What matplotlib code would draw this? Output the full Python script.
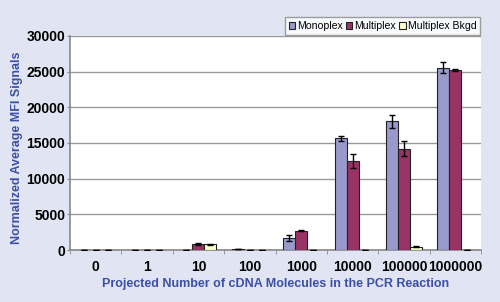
import matplotlib.pyplot as plt
import numpy as np

categories = ["0", "1", "10", "100", "1000", "10000", "100000", "1000000"]

monoplex = [30, 30, 40, 120, 1730, 15650, 18020, 25560]
monoplex_err = [10, 10, 10, 20, 420, 400, 860, 800]
multiplex = [30, 30, 880, 30, 2710, 12490, 14160, 25240]
multiplex_err = [10, 10, 160, 10, 110, 1000, 1050, 90]
bkgd = [30, 30, 800, 30, 30, 30, 470, 30]
bkgd_err = [5, 5, 30, 5, 5, 5, 110, 5]

bg = "#e1e5f3"
blue = "#3c4fa6"

plt.rcParams['font.family'] = ['Liberation Sans', 'DejaVu Sans']

fig = plt.figure(figsize=(5, 3.02), dpi=100, facecolor=bg)
ax = fig.add_axes([0.14, 0.172, 0.822, 0.709])
ax.set_facecolor("white")

x = np.arange(len(categories))
w = 0.233
err_kw = dict(ecolor="black", capsize=2.5, elinewidth=1, capthick=1)
ax.bar(x - w, monoplex, w, yerr=monoplex_err, color="#9999cc", edgecolor="#222222",
       linewidth=0.8, label="Monoplex", error_kw=err_kw, zorder=3)
ax.bar(x, multiplex, w, yerr=multiplex_err, color="#993366", edgecolor="#222222",
       linewidth=0.8, label="Multiplex", error_kw=err_kw, zorder=3)
ax.bar(x + w, bkgd, w, yerr=bkgd_err, color="#ffffcc", edgecolor="#222222",
       linewidth=0.8, label="Multiplex Bkgd", error_kw=err_kw, zorder=3)

ax.set_xlim(-0.5, len(categories) - 0.5)
ax.set_ylim(0, 30000)
ax.set_yticks(np.arange(0, 30001, 5000))
ax.yaxis.grid(True, color="#999999", linewidth=1)
ax.set_axisbelow(True)

ax.set_xticks(x)
ax.set_xticklabels(categories, fontsize=10, fontweight="bold")
ax.set_xticks(np.arange(-0.5, len(categories)), minor=True)
ax.tick_params(axis="x", which="major", length=0, pad=7)
ax.tick_params(axis="x", which="minor", length=3, color="#888888")
ax.tick_params(axis="y", length=2.5, pad=1, color="#888888", labelsize=10)
for lab in ax.get_yticklabels():
    lab.set_fontweight("bold")

for s in ["top", "right"]:
    ax.spines[s].set_visible(False)
for s in ["left", "bottom"]:
    ax.spines[s].set_color("#888888")
    ax.spines[s].set_linewidth(1.2)

ax.set_xlabel("Projected Number of cDNA Molecules in the PCR Reaction",
              fontsize=9, fontweight="bold", color=blue, labelpad=3)
ax.set_ylabel("Normalized Average MFI Signals",
              fontsize=9, fontweight="bold", color=blue)
ax.yaxis.set_label_coords(-0.114, 0.48)

leg = ax.legend(loc="lower right", bbox_to_anchor=(1.0, 1.0), ncol=3, fontsize=7.6,
                frameon=True, fancybox=False, handlelength=0.6, handleheight=0.6,
                handletextpad=0.2, columnspacing=0.3, borderpad=0.35, borderaxespad=0.1)
leg.get_frame().set_edgecolor("#888888")
leg.get_frame().set_linewidth(1)

plt.savefig("out.png", dpi=100, facecolor=bg)
